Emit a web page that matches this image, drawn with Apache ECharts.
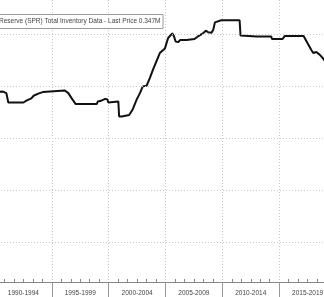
<!DOCTYPE html>
<html>
<head>
<meta charset="utf-8">
<script src="https://cdn.jsdelivr.net/npm/echarts@6/dist/echarts.min.js"></script>
<style>
html,body{margin:0;padding:0;background:#fff;overflow:hidden;width:324px;height:297px;position:relative;}
#c{position:absolute;left:-5px;top:0;width:341px;height:297px;}
</style>
</head>
<body>
<div id="c"></div>
<script>
// Data (decimal years, inventory in million barrels)
var years = [1990.0,1990.7,1991.0,1991.17,1992.5,1992.8,1993.2,1993.4,1993.8,1994.2,1994.25,1996.15,1996.45,1996.75,1997.1,1998.95,1999.05,1999.4,1999.7,1999.88,1999.97,2000.4,2000.85,2000.92,2001.15,2001.8,2002.1,2002.45,2002.75,2003.0,2003.33,2003.62,2003.9,2004.2,2004.5,2004.95,2005.23,2005.6,2005.73,2005.9,2006.1,2006.3,2006.85,2007.55,2007.85,2008.3,2008.55,2008.75,2009.05,2009.2,2009.35,2009.9,2011.52,2011.6,2013.0,2014.3,2014.37,2015.3,2015.5,2017.15,2017.5,2017.83,2018.0,2018.27,2018.56,2018.85,2019.1,2019.5,2020.0];
var inventory = [588,589,586,568,568,572,576,581,585,588,591,591,586,576,565,565,570,572,575,574,568,569,570,541,541,544,554,573,586,599,600,615,631,647,663,672,692,701,696,685,684,688,688,690,695,701,706,703,702,708,722,726,726,697,695,695,690,690,696,696,682,669,663,665,660,653,645,640,638];
var periodLabels = ["1990-1994","1995-1999","2000-2004","2005-2009","2010-2014","2015-2019"];
var gridValues = [300,400,500,600,700];
var legendText = "Reserve (SPR) Total Inventory Data - Last Price 0.347M";

var seriesData = years.map(function(y,i){return [y, inventory[i]];});

var chart = echarts.init(document.getElementById('c'), null, {renderer:'canvas'});
chart.setOption({
  backgroundColor:'#fff',
  animation:false,
  grid:{left:0, right:0, top:0, bottom:15, containLabel:false},
  xAxis:[{
    type:'value', min:1990, max:2020, interval:5,
    axisLine:{show:true, lineStyle:{color:'#888', width:1}},
    axisTick:{show:false, inside:true},
    minorTick:{show:true, splitNumber:6, length:3, lineStyle:{color:'#888'}},
    axisLabel:{show:false},
    splitLine:{show:true, lineStyle:{color:'#c8c8c8', type:[1,2], width:1}}
  },{
    type:'category', data:periodLabels, position:'bottom', boundaryGap:true,
    axisLine:{show:false},
    axisTick:{show:true, length:15, lineStyle:{color:'#999'}},
    axisLabel:{show:true, fontSize:6.5, color:'#444', margin:8, fontFamily:'Liberation Sans'},
    splitLine:{show:false}
  }],
  yAxis:{
    type:'value', min:223, max:765,
    axisLine:{show:false}, axisTick:{show:false}, axisLabel:{show:false},
    splitLine:{show:false}
  },
  series:[{
    type:'line', xAxisIndex:0, data:seriesData, showSymbol:false,
    lineStyle:{color:'#111', width:2},
    markLine:{
      silent:true, symbol:'none', label:{show:false},
      lineStyle:{color:'#c8c8c8', type:[1,2], width:1},
      data:gridValues.map(function(v){return {yAxis:v};})
    },
    z:3
  }],
  graphic:[{
    type:'rect', shape:{x:-5, y:14.5, width:173, height:14},
    style:{fill:'#fff', stroke:'#999', lineWidth:1}, z:10
  },{
    type:'text', x:4, y:21.5, z:11,
    style:{text:legendText, fill:'#444', font:'6.5px "Liberation Sans"', verticalAlign:'middle', align:'left'}
  }]
});
</script>
</body>
</html>
